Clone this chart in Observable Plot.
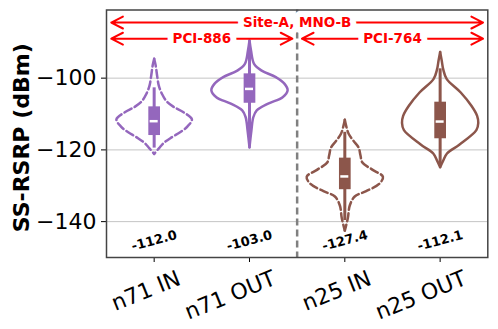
<!DOCTYPE html>
<html><head><meta charset="utf-8">
<script src="https://cdn.jsdelivr.net/npm/d3@7"></script>
<script src="https://cdn.jsdelivr.net/npm/@observablehq/plot@0.6"></script>
<style>body{margin:0;background:#fff}#chart{width:498px;height:329px}</style>
</head><body><div id="chart"></div>
<script>
const categories = ["n71 IN", "n71 OUT", "n25 IN", "n25 OUT"];
const medians = [-112.0, -103.0, -127.4, -112.1];
const q1 = [-116.0, -107.0, -131.1, -116.9];
const q3 = [-108.0, -98.8, -122.3, -106.7];
const whiskerLow = [-119.5, -119.0, -139.7, -124.4];
const whiskerHigh = [-102.7, -90.5, -115.1, -97.4];
// violin outlines: [dBm, relative half-width]
const profileN71In = [[-94.6,0],[-96.5,0.04],[-99.5,0.08],[-102,0.12],[-104.5,0.21],[-106.5,0.33],[-108,0.51],[-109.5,0.77],[-111.5,0.99],[-113.5,0.87],[-115,0.69],[-116.5,0.46],[-118,0.26],[-119.5,0.13],[-121.1,0]];
const profileN71Out = [[-89.5,0],[-92.3,0.04],[-96.0,0.12],[-97.9,0.32],[-99.7,0.69],[-101.6,0.92],[-103.4,1.0],[-105.3,0.87],[-107.1,0.49],[-109.0,0.19],[-110.9,0.10],[-114.6,0.05],[-119.3,0]];
const profileN25In = [[-111.6,0],[-113.5,0.04],[-115.5,0.1],[-117.5,0.23],[-119.3,0.36],[-121.5,0.41],[-123.5,0.46],[-125.5,0.72],[-127.5,1.0],[-129.5,0.9],[-131.5,0.56],[-133.0,0.26],[-135.5,0.13],[-139,0.08],[-142.5,0]];
const profileN25Out = [[-92.7,0],[-95,0.04],[-97.5,0.08],[-100.2,0.17],[-104,0.54],[-107.7,0.82],[-110.5,0.97],[-112.5,1.0],[-114.5,0.95],[-118.5,0.51],[-121,0.18],[-123,0.08],[-124.8,0]];
const yTicks = [-100, -120, -140];
const yTickLabels = ["−100", "−120", "−140"];
const yLabel = "SS-RSRP (dBm)";
const spanLabels = ["Site-A, MNO-B", "PCI-886", "PCI-764"];
const spanStart = [-0.45, -0.45, 1.55];
const spanEnd = [3.45, 1.45, 3.45];
const spanLevel = [-84.5, -89.0, -89.0];
const dividerAt = [1.5];
const medianLabelLevel = -145.3;
const xDomain = [-0.5, 3.5];
const yDomain = [-150, -81];

const profiles = [profileN71In, profileN71Out, profileN25In, profileN25Out];
const idx = categories.map((_, i) => i);
const band = i => categories[i].split(" ")[0];
const isIn = i => categories[i].endsWith("IN");
const violinHalf = 0.4;
const violinPts = [];
profiles.forEach((p, i) => {
  for (const side of [-1, 1]) for (const [v, w] of p)
    violinPts.push({cat: i, x: i + side * violinHalf * w, y: v, z: i * 2 + (side > 0 ? 1 : 0)});
});
const arrows = [];
spanLabels.forEach((l, k) => {
  const mid = (spanStart[k] + spanEnd[k]) / 2;
  arrows.push({k, x1: mid, x2: spanStart[k], y: spanLevel[k]});
  arrows.push({k, x1: mid, x2: spanEnd[k], y: spanLevel[k]});
});
const spanIdx = spanLabels.map((_, k) => k);
const red = "#ff0000";
const arrowOpts = {x1: "x1", x2: "x2", y1: "y", y2: "y", stroke: red, strokeWidth: 2, headLength: 9.8, headAngle: 54};
const spanTextOpts = {x: k => (spanStart[k] + spanEnd[k]) / 2, y: k => spanLevel[k], text: k => spanLabels[k],
  fill: red, stroke: "white", strokeWidth: 12, strokeLinejoin: "round", fontWeight: "bold", fontSize: 13.5};

const chart = Plot.plot({
  width: 498, height: 329,
  marginLeft: 106, marginRight: 10.7, marginTop: 9.5, marginBottom: 72,
  style: {fontFamily: "'DejaVu Sans'", fontSize: "13px", background: "white", overflow: "visible", color: "black"},
  x: {type: "linear", domain: xDomain, axis: null},
  y: {domain: yDomain, axis: null},
  color: {domain: ["n71", "n25"], range: ["#9467bd", "#8c564b"]},
  marks: [
    Plot.gridY(yTicks, {stroke: "#c4c4c4", strokeOpacity: 1, strokeWidth: 1}),
    Plot.ruleX(dividerAt, {stroke: "#808080", strokeWidth: 2.5, strokeDasharray: "7,4"}),
    Plot.line(violinPts.filter(d => isIn(d.cat)), {x: "x", y: "y", z: "z", stroke: d => band(d.cat), strokeWidth: 2.5, strokeDasharray: "8,3.5", curve: "catmull-rom"}),
    Plot.line(violinPts.filter(d => !isIn(d.cat)), {x: "x", y: "y", z: "z", stroke: d => band(d.cat), strokeWidth: 2.5, curve: "catmull-rom"}),
    Plot.ruleX(idx, {x: i => i, y1: i => whiskerLow[i], y2: i => whiskerHigh[i], stroke: band, strokeWidth: 3}),
    Plot.ruleX(idx, {x: i => i, y1: i => q1[i], y2: i => q3[i], stroke: band, strokeWidth: 11.7, strokeLinecap: "butt"}),
    Plot.ruleY(idx, {y: i => medians[i], x1: i => i - 0.042, x2: i => i + 0.042, stroke: "white", strokeWidth: 2.5}),
    Plot.text(idx, {x: i => i, y: () => medianLabelLevel, text: i => medians[i].toFixed(1), rotate: -15, fontWeight: "bold", fontSize: 13, fill: "black"}),
    Plot.arrow(arrows.filter(a => a.k === 0), arrowOpts),
    Plot.text(spanIdx.filter(k => k === 0), spanTextOpts),
    Plot.arrow(arrows.filter(a => a.k !== 0), arrowOpts),
    Plot.text(spanIdx.filter(k => k !== 0), spanTextOpts),
    Plot.axisY({ticks: yTicks, tickFormat: d => yTickLabels[yTicks.indexOf(d)], tickSize: 5, tickPadding: 5, fontSize: 22, label: null}),
    Plot.axisX({ticks: idx, tickFormat: () => "", tickSize: 5, label: null}),
    Plot.text(idx, {x: i => i, y: () => yDomain[0], text: i => categories[i], rotate: -22, textAnchor: "end", lineAnchor: "top", dx: 22, dy: 12, fontSize: 22}),
    Plot.text([yLabel], {x: () => xDomain[0], y: () => (yDomain[0] + yDomain[1]) / 2, text: d => d, rotate: -90, textAnchor: "middle", lineAnchor: "middle", dx: -85, dy: 4, fontWeight: "bold", fontSize: 22}),
    Plot.frame({stroke: "#444", strokeWidth: 1.5})
  ]
});
document.getElementById("chart").appendChild(chart);
</script>
</body></html>
